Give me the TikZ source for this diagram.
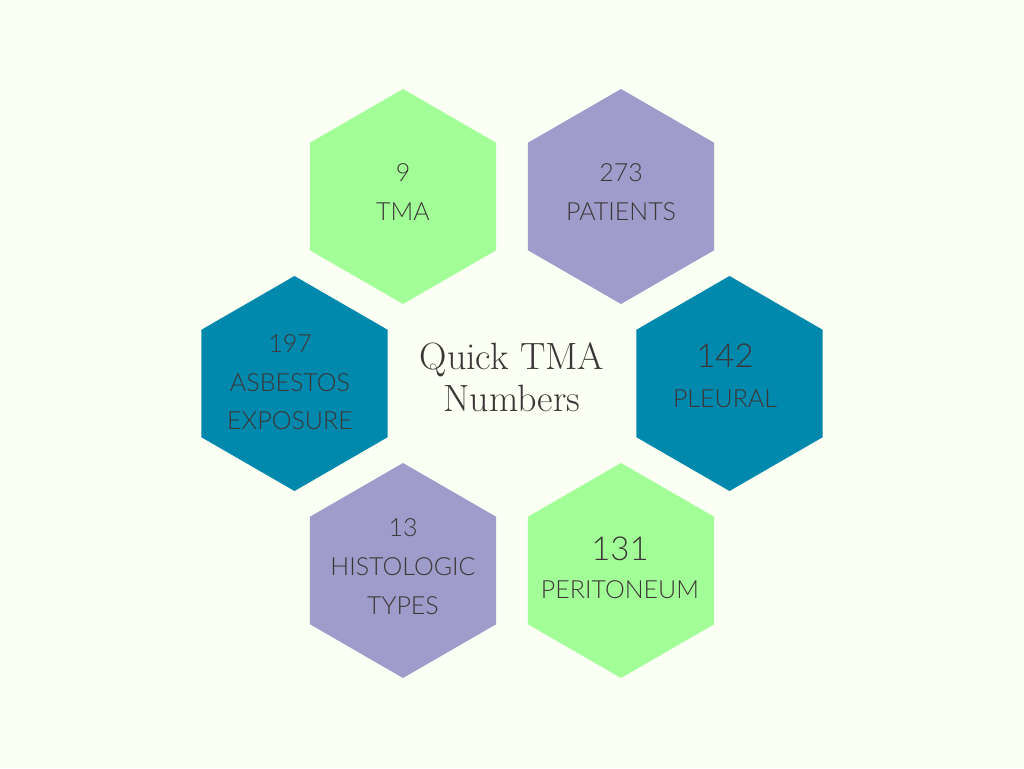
\documentclass[tikz,border=0pt]{standalone}
\usepackage{fontspec}
\newfontfamily\hexfont{Lato Light}
\usetikzlibrary{shapes.geometric}
\definecolor{bgc}{HTML}{FCFFF4}
\definecolor{hgreen}{HTML}{A2FF98}
\definecolor{hpurple}{HTML}{9F9CCC}
\definecolor{hteal}{HTML}{0088AD}
\definecolor{txt}{HTML}{3D3636}
\tikzset{
  hexagon/.style={regular polygon, regular polygon sides=6, shape border rotate=90,
    minimum size=215pt, inner sep=0pt, draw=none},
  lbl/.style={font=\hexfont\fontsize{25}{30}\selectfont, text=txt, inner sep=0pt, anchor=center},
  big/.style={font=\hexfont\fontsize{33}{40}\selectfont, text=txt, inner sep=0pt, anchor=center},
  title/.style={font=\fontsize{38}{40}\selectfont, text=txt, inner sep=0pt, anchor=center}
}
\begin{document}
\begin{tikzpicture}[x=1pt,y=-1pt]
\fill[bgc] (0,0) rectangle (1024,768);
\useasboundingbox (0,0) rectangle (1024,768);
\node[hexagon, fill=hgreen] (h1) at (403,196.5) {};
\node[hexagon, fill=hpurple] (h2) at (621,196.5) {};
\node[hexagon, fill=hteal] (h3) at (294.5,383.5) {};
\node[hexagon, fill=hteal] (h4) at (729.5,383.5) {};
\node[hexagon, fill=hpurple] (h5) at (403,570.5) {};
\node[hexagon, fill=hgreen] (h6) at (621,570.5) {};
% TMA
\node[lbl] (t1a) at (403,173) {9};
\node[lbl] (t1b) at (403,212) {TMA};
% patients
\node[lbl] (t2a) at (621,173) {273};
\node[lbl] (t2b) at (621,212) {PATIENTS};
% asbestos
\node[lbl] (t3a) at (290,344) {197};
\node[lbl] (t3b) at (290,383) {ASBESTOS};
\node[lbl] (t3c) at (290,421) {EXPOSURE};
% pleural
\node[big] (t4a) at (725,356) {142};
\node[lbl] (t4b) at (725,399) {PLEURAL};
% histologic
\node[lbl] (t5a) at (403,528) {13};
\node[lbl] (t5b) at (403,567) {HISTOLOGIC};
\node[lbl] (t5c) at (403,606) {TYPES};
% peritoneum
\node[big] (t6a) at (620,549) {131};
\node[lbl] (t6b) at (620,590) {PERITONEUM};
% title
\node[title] (ta) at (512,360) {Quick TMA};
\node[title] (tb) at (512,398) {Numbers};
\end{tikzpicture}
\end{document}
